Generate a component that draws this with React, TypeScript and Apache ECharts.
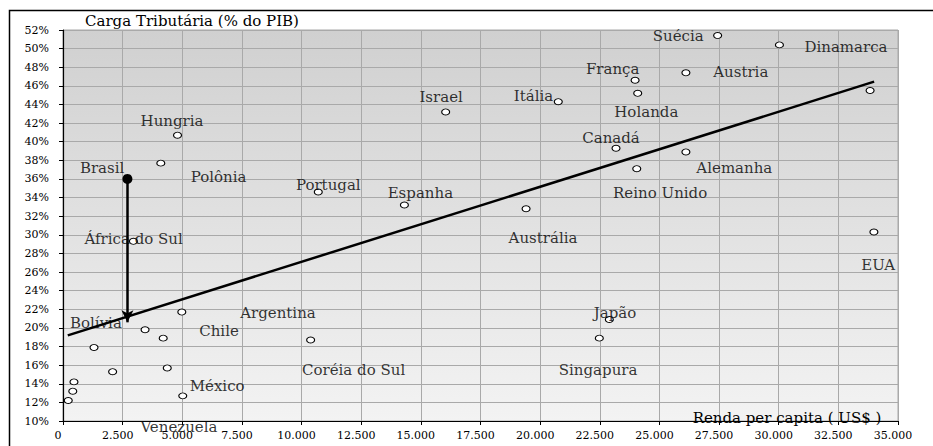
import React, { useEffect, useRef } from "react";
import * as echarts from "echarts";

// Hollow-marker countries (renda per capita US$, carga tributária %)
const pointX = [4800, 4100, 2950, 4980, 1300, 3440, 4200, 2080, 4370, 460, 410, 220, 5020, 10380, 22900, 22480, 16040, 20760, 23980, 24090, 23180, 27440, 30030, 26110, 33830, 26110, 24050, 33990, 10700, 14310, 19410];
const pointY = [40.7, 37.7, 29.3, 21.7, 17.9, 19.8, 18.9, 15.3, 15.7, 14.2, 13.2, 12.2, 12.7, 18.7, 20.9, 18.9, 43.2, 44.3, 46.6, 45.2, 39.3, 51.4, 50.4, 47.4, 45.5, 38.9, 37.1, 30.3, 34.6, 33.2, 32.8];

// Brasil (highlighted)
const brasilX = 2700;
const brasilY = 36.0;
// Arrow end (Brasil projected on the trend line)
const arrowEndY = 20.6;

// Trend line end points
const trendX = [200, 34000];
const trendY = [19.2, 46.45];

// Country label anchors (data coordinates)
const labelNames = ["Hungria", "Polônia", "Brasil", "África do Sul", "Bolívia", "Chile", "Argentina", "México", "Venezuela", "Coréia do Sul", "Japão", "Singapura", "Israel", "Itália", "França", "Holanda", "Canadá", "Suécia", "Dinamarca", "Austria", "Alemanha", "Reino Unido", "EUA", "Portugal", "Espanha", "Austrália"];
const labelX = [4570, 6520, 1640, 2960, 1380, 6540, 9010, 6460, 4860, 12180, 23140, 22430, 15850, 19720, 23040, 24450, 22970, 25790, 32820, 28410, 28140, 25030, 34170, 11120, 14980, 20120];
const labelY = [42.2, 36.25, 37.15, 29.55, 20.55, 19.65, 21.55, 13.8, 9.35, 15.5, 21.55, 15.5, 44.85, 44.9, 47.8, 43.15, 40.45, 51.35, 50.2, 47.45, 37.15, 34.45, 26.75, 35.35, 34.45, 29.65];

// Axis ticks
const xMin = 0, xMax = 35000, xStep = 2500;
const yMin = 10, yMax = 52, yStep = 2;

const yTitle = "Carga Tributária (% do PIB)";
const xTitle = "Renda per capita ( US$ )";

const SERIF = "'DejaVu Serif', 'Liberation Serif', serif";

function fmtThousands(v: number): string {
  return String(v).replace(/\B(?=(\d{3})+(?!\d))/g, ".");
}

export default function App() {
  const ref = useRef<HTMLDivElement>(null);

  useEffect(() => {
    if (!ref.current) return;
    const chart = echarts.init(ref.current, null, { renderer: "svg" });

    const points = pointX.map((x, i) => [x, pointY[i]]);
    const labels = labelNames.map((n, i) => ({ name: n, value: [labelX[i], labelY[i]] }));
    const trend = trendX.map((x, i) => [x, trendY[i]]);

    chart.setOption({
      animation: false,
      backgroundColor: "#ffffff",
      grid: {
        left: 63,
        right: 35,
        top: 30,
        bottom: 25,
        show: true,
        backgroundColor: new echarts.graphic.LinearGradient(0, 0, 0, 1, [
          { offset: 0, color: "#d0d0d0" },
          { offset: 1, color: "#f3f3f3" },
        ]),
        borderColor: "#a8a8a8",
        borderWidth: 1,
      },
      xAxis: {
        type: "value",
        min: xMin,
        max: xMax,
        interval: xStep,
        axisLine: { show: true, onZero: false, lineStyle: { color: "#000", width: 1.2 } },
        axisTick: { show: true, length: 4, lineStyle: { color: "#000" } },
        splitLine: { show: true, lineStyle: { color: "#a9a9a9", width: 1 } },
        axisLabel: {
          margin: 9,
          fontFamily: SERIF,
          fontSize: 11,
          color: "#000",
          padding: [0, 10, 0, 0],
          formatter: (v: number) => fmtThousands(v),
        },
      },
      yAxis: {
        type: "value",
        min: yMin,
        max: yMax,
        interval: yStep,
        axisLine: { show: true, onZero: false, lineStyle: { color: "#000", width: 1.2 } },
        axisTick: { show: true, length: 4, lineStyle: { color: "#000" } },
        splitLine: { show: true, lineStyle: { color: "#a9a9a9", width: 1 } },
        axisLabel: {
          margin: 14,
          fontFamily: SERIF,
          fontSize: 11,
          color: "#000",
          formatter: (v: number) => `${v}%`,
        },
      },
      graphic: [
        {
          type: "rect",
          left: 7,
          top: 8,
          shape: { x: 0, y: 0, width: 940, height: 460 },
          style: { fill: "none", stroke: "#000", lineWidth: 1.5 },
          silent: true,
          z: 100,
        },
        {
          type: "text",
          x: 192,
          y: 21,
          style: {
            text: yTitle,
            fontFamily: SERIF,
            fontSize: 15,
            fill: "#000",
            align: "center",
            verticalAlign: "middle",
          },
          z: 100,
        },
        {
          type: "text",
          x: 787,
          y: 418,
          style: {
            text: xTitle,
            fontFamily: SERIF,
            fontSize: 15,
            fill: "#000",
            align: "center",
            verticalAlign: "middle",
          },
          z: 100,
        },
      ],
      series: [
        {
          type: "line",
          name: "Tendência",
          data: trend,
          showSymbol: false,
          symbol: "none",
          lineStyle: { color: "#000", width: 2.5, opacity: 1 },
          z: 3,
          silent: true,
        },
        {
          type: "scatter",
          name: "Países",
          data: points,
          symbol: "circle",
          symbolSize: [8, 6],
          itemStyle: { color: "#ffffff", borderColor: "#000", borderWidth: 1, opacity: 1 },
          z: 4,
        },
        {
          type: "scatter",
          name: "Brasil",
          data: [[brasilX, brasilY]],
          symbol: "circle",
          symbolSize: 10,
          itemStyle: { color: "#000", opacity: 1 },
          z: 5,
          markLine: {
            silent: true,
            symbol: ["none", "arrow"],
            symbolSize: [9, 12],
            label: { show: false },
            lineStyle: { color: "#000", width: 2.5, type: "solid", opacity: 1 },
            itemStyle: { color: "#000", opacity: 1 },
            data: [[{ coord: [brasilX, brasilY] }, { coord: [brasilX, arrowEndY] }]],
          },
        },
        {
          type: "scatter",
          name: "Rótulos",
          data: labels,
          symbolSize: 0,
          clip: false,
          silent: true,
          z: 6,
          label: {
            show: true,
            position: "inside",
            formatter: (p: any) => p.name,
            fontFamily: SERIF,
            fontSize: 15,
            color: "#000",
          },
        },
      ],
    });

    return () => chart.dispose();
  }, []);

  return (
    <div
      ref={ref}
      style={{ position: "absolute", left: 0, top: 0, width: 933, height: 446 }}
    />
  );
}
